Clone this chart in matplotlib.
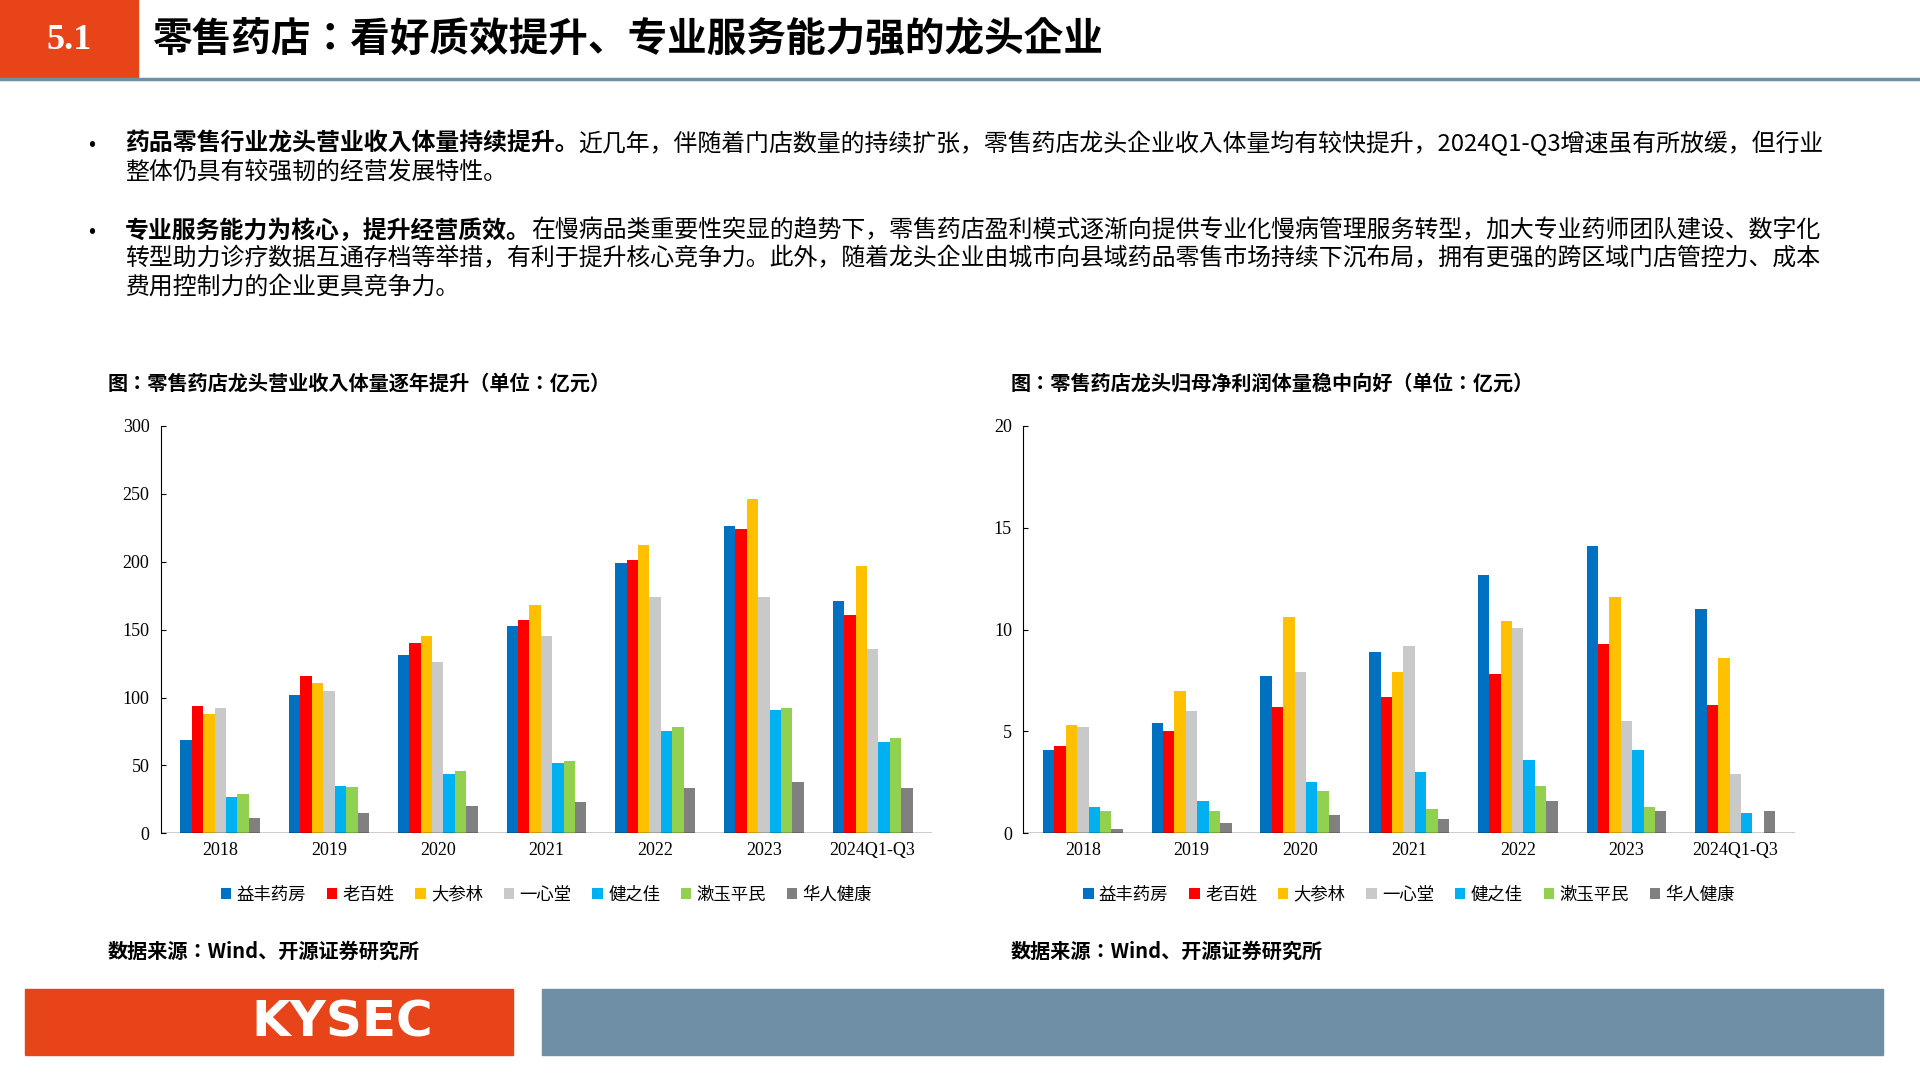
import matplotlib.pyplot as plt
import numpy as np
from matplotlib.patches import Rectangle
from matplotlib import font_manager

names = sorted({f.name for f in font_manager.fontManager.ttflist if "CJK" in f.name})
cjk = [n for n in ["Noto Sans CJK SC", "Noto Sans CJK JP", "Noto Sans CJK TC", "Noto Sans CJK KR"] if n in names] + names
plt.rcParams["font.family"] = "sans-serif"
plt.rcParams["font.sans-serif"] = cjk + ["DejaVu Sans"]
SERIF = ["Liberation Serif"] + cjk

years = ["2018", "2019", "2020", "2021", "2022", "2023", "2024Q1-Q3"]
companies = ["益丰药房", "老百姓", "大参林", "一心堂", "健之佳", "漱玉平民", "华人健康"]
colors = ["#0070C0", "#FF0000", "#FFC000", "#C9C9C9", "#00B0F0", "#92D050", "#808080"]

# revenue, 亿元
rev_yifeng = [69, 102, 131, 153, 199, 226, 171]
rev_laobaixing = [94, 116, 140, 157, 201, 224, 161]
rev_dashenlin = [88, 111, 145, 168, 212, 246, 197]
rev_yixintang = [92, 105, 126, 145, 174, 174, 136]
rev_jianzhijia = [27, 35, 44, 52, 75, 91, 67]
rev_shuyu = [29, 34, 46, 53, 78, 92, 70]
rev_huaren = [11, 15, 20, 23, 33, 38, 33]

# net profit, 亿元
np_yifeng = [4.1, 5.4, 7.7, 8.9, 12.7, 14.1, 11.0]
np_laobaixing = [4.3, 5.0, 6.2, 6.7, 7.8, 9.3, 6.3]
np_dashenlin = [5.3, 7.0, 10.6, 7.9, 10.4, 11.6, 8.6]
np_yixintang = [5.2, 6.0, 7.9, 9.2, 10.1, 5.5, 2.9]
np_jianzhijia = [1.3, 1.6, 2.5, 3.0, 3.6, 4.1, 1.0]
np_shuyu = [1.1, 1.1, 2.1, 1.2, 2.3, 1.3, -0.1]
np_huaren = [0.2, 0.5, 0.9, 0.7, 1.6, 1.1, 1.1]

revenue = [rev_yifeng, rev_laobaixing, rev_dashenlin, rev_yixintang, rev_jianzhijia, rev_shuyu, rev_huaren]
profit = [np_yifeng, np_laobaixing, np_dashenlin, np_yixintang, np_jianzhijia, np_shuyu, np_huaren]

fig = plt.figure(figsize=(19.2, 10.8), dpi=100)
renderer = fig.canvas.get_renderer()

# header
fig.patches.append(Rectangle((0, 1 - 63 / 880), 113 / 1567, 63 / 880, transform=fig.transFigure,
                             color="#E8441A", zorder=0))
fig.text(56 / 1567, 1 - 33 / 880, "5.1", color="white", fontsize=26, fontweight="bold",
         family="Liberation Serif", ha="center", va="center")
fig.text(125 / 1567, 1 - 33 / 880, "零售药店：看好质效提升、专业服务能力强的龙头企业",
         fontsize=28.5, fontweight="bold", va="center")
fig.add_artist(plt.Line2D([0, 1], [1 - 64 / 880] * 2, color="#6E8FA5", lw=2.5, transform=fig.transFigure))

# body text
body = [
    (117, [("药品零售行业龙头营业收入体量持续提升。", True),
           ("近几年，伴随着门店数量的持续扩张，零售药店龙头企业收入体量均有较快提升，2024Q1-Q3增速虽有所放缓，但行业", False)]),
    (140, [("整体仍具有较强韧的经营发展特性。", False)]),
    (188, [("专业服务能力为核心，提升经营质效。", True),
           ("在慢病品类重要性突显的趋势下，零售药店盈利模式逐渐向提供专业化慢病管理服务转型，加大专业药师团队建设、数字化", False)]),
    (211, [("转型助力诊疗数据互通存档等举措，有利于提升核心竞争力。此外，随着龙头企业由城市向县域药品零售市场持续下沉布局，拥有更强的跨区域门店管控力、成本", False)]),
    (234, [("费用控制力的企业更具竞争力。", False)]),
]
W = fig.bbox.width
for y, parts in body:
    x = 102 / 1567
    for s, bold in parts:
        t = fig.text(x, 1 - y / 880, s, fontsize=17.2, va="center",
                     fontweight="bold" if bold else "normal")
        x += t.get_window_extent(renderer).width / W
for y in (117, 188):
    fig.text(72 / 1567, 1 - y / 880, "•", fontsize=15, va="center")


def draw(ax, data, ymax, step, title, tx):
    x = np.arange(len(years))
    w = 0.105
    for i, (vals, c) in enumerate(zip(data, colors)):
        ax.bar(x + (i - 3) * w, vals, w, color=c, label=companies[i])
    ax.set_ylim(0, ymax)
    ax.set_yticks(np.arange(0, ymax + 1, step))
    ax.set_xlim(-0.55, len(years) - 0.45)
    ax.set_xticks(x)
    ax.set_xticklabels(years)
    for s in ("top", "right", "bottom"):
        ax.spines[s].set_visible(False)
    ax.axhline(0, color="black", lw=1)
    ax.tick_params(axis="x", length=0, labelsize=13, pad=6)
    ax.tick_params(axis="y", labelsize=13, direction="in", pad=8)
    for lab in ax.get_xticklabels() + ax.get_yticklabels():
        lab.set_family(SERIF)
    ax.legend(loc="upper center", bbox_to_anchor=(0.5, -0.09), ncol=7, frameon=False,
              fontsize=12.5, handlelength=0.6, handleheight=0.6, columnspacing=1.2, handletextpad=0.3)
    fig.text(tx, 1 - 312 / 880, title, fontsize=14.5, fontweight="bold", va="center")
    fig.text(tx, 1 - 775 / 880, "数据来源：Wind、开源证券研究所", fontsize=14.5, fontweight="bold", va="center")


ax1 = fig.add_axes([131 / 1567, 1 - 679 / 880, 630 / 1567, 332 / 880])
draw(ax1, revenue, 300, 50, "图：零售药店龙头营业收入体量逐年提升（单位：亿元）", 88 / 1567)
ax2 = fig.add_axes([835 / 1567, 1 - 679 / 880, 630 / 1567, 332 / 880])
draw(ax2, profit, 20, 5, "图：零售药店龙头归母净利润体量稳中向好（单位：亿元）", 825 / 1567)

# footer
fig.patches.append(Rectangle((20 / 1567, 1 - 860 / 880), 399 / 1567, 54 / 880, transform=fig.transFigure,
                             color="#E8441A", zorder=0))
fig.text(279 / 1567, 1 - 833 / 880, "KYSEC", color="white", fontsize=36, fontweight="bold",
         family="DejaVu Sans", ha="center", va="center")
fig.patches.append(Rectangle((442 / 1567, 1 - 860 / 880), 1095 / 1567, 54 / 880, transform=fig.transFigure,
                             color="#6E8FA5", zorder=0))

fig.savefig("out.png", dpi=100)
